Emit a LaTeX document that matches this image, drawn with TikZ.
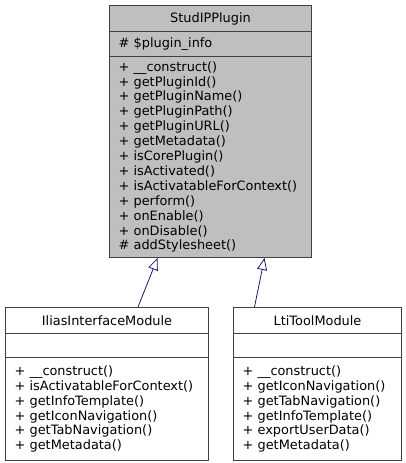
\documentclass[tikz,border=0pt]{standalone}
\usepackage{fontspec}
\setmainfont{DejaVu Sans}
\usetikzlibrary{arrows.meta}
\hyphenpenalty=10000
\definecolor{boxgray}{RGB}{191,191,191}
\definecolor{edgegray}{RGB}{64,64,64}
\definecolor{inheritblue}{RGB}{25,25,112}
\tikzset{
  part/.style={draw=edgegray,line width=1pt,anchor=north west,inner sep=0pt,
    font=\fontsize{12.9}{14.9}\selectfont},
  title/.style={part,minimum height=26pt},
  members/.style={part,align=left,inner xsep=9pt},
  inherit/.style={draw=inheritblue,line width=0.8pt,
    -{Triangle[open,length=12pt,width=10pt]}}
}
\begin{document}
\begin{tikzpicture}[x=1pt,y=-1pt]
                \useasboundingbox (0,0)rectangle(405,463);
                % base class
                \node[title,fill=boxgray,minimum width=202pt](plugin)at(109,5){StudIPPlugin};
                \node[members,fill=boxgray,text width=184pt,minimum height=25pt](plugin-attr)at(109,31){\# \$plugin\_info};
                \node[members,fill=boxgray,text width=184pt,minimum height=201pt](plugin-ops)at(109,56){%
                  + \_\_construct()\\
                  + getPluginId()\\
                  + getPluginName()\\
                  + getPluginPath()\\
                  + getPluginURL()\\
                  + getMetadata()\\
                  + isCorePlugin()\\
                  + isActivated()\\
                  + isActivatableForContext()\\
                  + perform()\\
                  + onEnable()\\
                  + onDisable()\\
                  \# addStylesheet()};
                % derived classes
                \node[title,minimum width=203pt](ilias)at(5,307){IliasInterfaceModule};
                \node[members,text width=185pt,minimum height=24pt](ilias-attr)at(5,333){};
                \node[members,text width=185pt,minimum height=103pt](ilias-ops)at(5,357){%
                  + \_\_construct()\\
                  + isActivatableForContext()\\
                  + getInfoTemplate()\\
                  + getIconNavigation()\\
                  + getTabNavigation()\\
                  + getMetadata()};
                \node[title,minimum width=168pt](lti)at(233,307){LtiToolModule};
                \node[members,text width=150pt,minimum height=24pt](lti-attr)at(233,333){};
                \node[members,text width=150pt,minimum height=103pt](lti-ops)at(233,357){%
                  + \_\_construct()\\
                  + getIconNavigation()\\
                  + getTabNavigation()\\
                  + getInfoTemplate()\\
                  + exportUserData()\\
                  + getMetadata()};
                \coordinate(ilias-up)at([xshift=31pt]ilias.north);
                \coordinate(lti-up)at([xshift=-63pt]lti.north);
                \coordinate(plugin-left)at([xshift=-53pt]plugin-ops.south);
                \coordinate(plugin-right)at([xshift=54pt]plugin-ops.south);
                \draw[inherit](ilias-up)--(plugin-left);
                \draw[inherit](lti-up)--(plugin-right);
            \end{tikzpicture}
\end{document}
